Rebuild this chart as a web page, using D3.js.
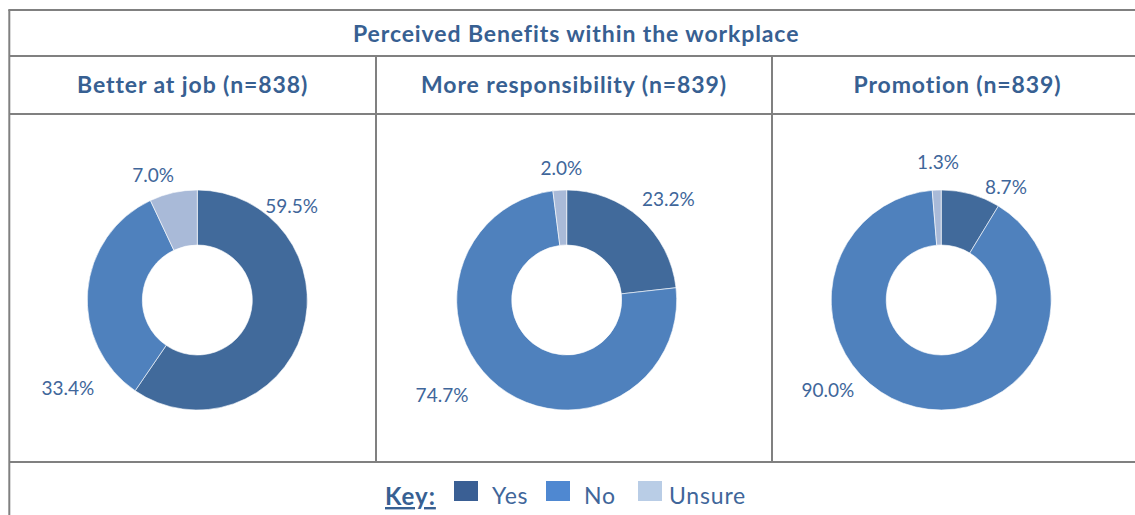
<!DOCTYPE html>
<html>
<head>
<meta charset="utf-8">
<script src="https://cdn.jsdelivr.net/npm/d3@7"></script>
<style>
  html, body { margin: 0; padding: 0; background: #fff; }
  svg { display: block; }
  text { font-family: Lato, "Open Sans", sans-serif; }
</style>
</head>
<body>
<svg id="chart" width="1135" height="515"></svg>
<script>
// ---- data ----
const title = "Perceived Benefits within the workplace";
const categories = ["Yes", "No", "Unsure"];
const panelTitles = ["Better at job (n=838)", "More responsibility (n=839)", "Promotion (n=839)"];
const betterAtJob = [59.5, 33.4, 7.0];
const moreResponsibility = [23.2, 74.7, 2.0];
const promotion = [8.7, 90.0, 1.3];
const keyTitle = "Key:";

// ---- layout / style ----
const W = 1135, H = 515;
const tableLeft = 9.3, tableRight = 1143, tableTop = 10;
const rowLines = [56, 114, 462];
const colLines = [376, 772];
const donutCx = [197.3, 566.7, 941.2];
const donutCy = 300;
const outerR = 110, innerR = 55;
const sliceColors = ["#416a9b", "#4f81bd", "#a9bad8"];
const keyColors = ["#3a5f94", "#4f88d1", "#b9cde6"];
const headColor = "#376092";
const labelColor = "#40669a";
const lineColor = "#808080";
// label anchor (centre x, baseline) relative to each doughnut centre, per slice
const labelOffsets = [
  [[94.4, -87], [-129.5, 95], [-44.3, -118]],
  [[101.6, -94], [-124.7, 102.3], [-5.4, -125]],
  [[64.8, -106], [-113.4, 96.7], [-3.2, -131]]
];

const svg = d3.select("#chart");
svg.append("rect").attr("width", W).attr("height", H).attr("fill", "#fff");

const series = [betterAtJob, moreResponsibility, promotion];
const fmt = v => d3.format(".1f")(v) + "%";

// table grid
const grid = svg.append("g").attr("stroke", lineColor).attr("stroke-width", 2).attr("fill", "none");
grid.append("line").attr("x1", tableLeft - 1).attr("x2", tableRight).attr("y1", tableTop).attr("y2", tableTop);
grid.append("line").attr("x1", tableLeft).attr("x2", tableLeft).attr("y1", tableTop).attr("y2", H);
rowLines.forEach(y => grid.append("line").attr("x1", tableLeft).attr("x2", tableRight).attr("y1", y).attr("y2", y));
colLines.forEach(x => grid.append("line").attr("x1", x).attr("x2", x).attr("y1", rowLines[0]).attr("y2", rowLines[2]));

// header cells
svg.append("text")
  .attr("x", (tableLeft + tableRight) / 2).attr("y", 41.5)
  .attr("text-anchor", "middle").attr("font-weight", "bold").attr("font-size", 23)
  .attr("letter-spacing", 0.9)
  .attr("fill", headColor).text(title);

const colEdges = [tableLeft, ...colLines, tableRight];
panelTitles.forEach((t, i) => {
  svg.append("text")
    .attr("x", (colEdges[i] + colEdges[i + 1]) / 2).attr("y", 93.3)
    .attr("text-anchor", "middle").attr("font-weight", "bold").attr("font-size", 23)
    .attr("letter-spacing", 0.9)
    .attr("fill", headColor).text(t);
});

// doughnuts
const pie = d3.pie().sort(null).value(d => d);
const arc = d3.arc().innerRadius(innerR).outerRadius(outerR);

series.forEach((vals, i) => {
  const g = svg.append("g").attr("transform", `translate(${donutCx[i]},${donutCy})`);
  const arcs = pie(vals);
  g.selectAll("path").data(arcs).join("path")
    .attr("d", arc)
    .attr("fill", (d, j) => sliceColors[j])
    .attr("stroke", "#fff").attr("stroke-width", 0.6);
  g.selectAll("text").data(arcs).join("text")
    .attr("x", (d, j) => labelOffsets[i][j][0])
    .attr("y", (d, j) => labelOffsets[i][j][1])
    .attr("text-anchor", "middle").attr("font-size", 19)
    .attr("fill", labelColor)
    .text(d => fmt(d.data));
});

// key
const key = svg.append("g");
key.append("text").attr("x", 385).attr("y", 505)
  .attr("font-weight", "bold").attr("font-size", 24).attr("letter-spacing", 1)
  .attr("fill", headColor)
  .attr("text-decoration", "underline").text(keyTitle);
const keyX = d3.scalePoint().domain(categories).range([454, 638]);
const keyItems = key.selectAll("g.item").data(categories).join("g").attr("class", "item")
  .attr("transform", d => `translate(${keyX(d)},0)`);
keyItems.append("rect").attr("x", 0).attr("y", 481).attr("width", 24).attr("height", 20)
  .attr("fill", (d, j) => keyColors[j]);
keyItems.append("text").attr("x", (d, j) => [38, 38, 31][j]).attr("y", 504)
  .attr("font-size", 23).attr("letter-spacing", 0.8)
  .attr("fill", labelColor).text(d => d);
</script>
</body>
</html>
